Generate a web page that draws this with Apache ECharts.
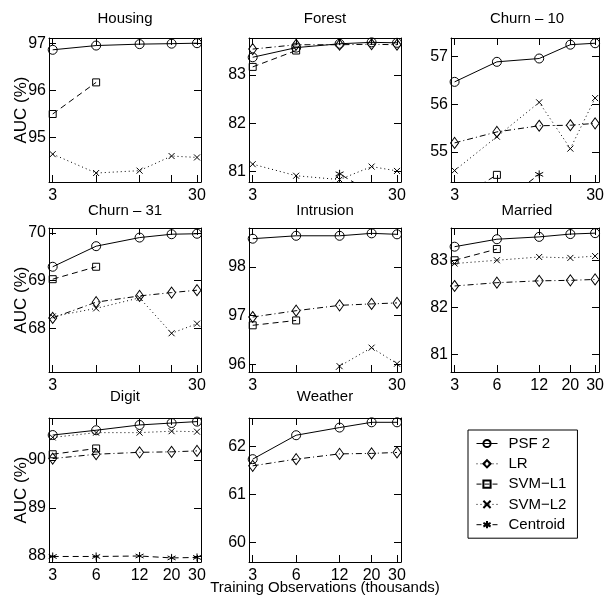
<!DOCTYPE html>
<html><head><meta charset="utf-8">
<script src="https://cdn.jsdelivr.net/npm/echarts@6/dist/echarts.min.js"></script>
<style>html,body{margin:0;padding:0;background:#fff}#c{width:607px;height:606px}</style>
</head><body><div id="c"></div><script>
// ---- data ----
const xValues = [3, 6, 12, 20, 30];
const panelTitles = ['Housing', 'Forest', 'Churn – 10', 'Churn – 31', 'Intrusion', 'Married', 'Digit', 'Weather'];
const yTicks = [[95, 96, 97], [81, 82, 83], [55, 56, 57], [68, 69, 70], [96, 97, 98], [81, 82, 83], [88, 89, 90], [60, 61, 62]];
const yMins = [94.06, 80.78, 54.37, 67.09, 95.84, 80.62, 87.875, 59.59];
const yMaxs = [97.11, 83.77, 57.39, 70.10, 98.80, 83.70, 90.875, 62.60];
const methodNames = ['PSF 2', 'LR', 'SVM−L1', 'SVM−L2', 'Centroid'];
const psf2 = [
  [96.86, 96.95, 96.98, 96.99, 97.00],
  [83.37, 83.57, 83.65, 83.68, 83.67],
  [56.47, 56.89, 56.96, 57.25, 57.28],
  [69.29, 69.72, 69.90, 69.97, 69.98],
  [98.58, 98.64, 98.64, 98.69, 98.67],
  [83.30, 83.46, 83.51, 83.57, 83.59],
  [90.52, 90.62, 90.73, 90.77, 90.80],
  [61.74, 62.24, 62.40, 62.51, 62.51]
];
const lr = [
  null,
  [83.54, 83.63, 83.63, 83.64, 83.63],
  [55.19, 55.42, 55.55, 55.56, 55.60],
  [68.22, 68.55, 68.68, 68.75, 68.80],
  [96.97, 97.10, 97.21, 97.24, 97.26],
  [82.46, 82.53, 82.57, 82.58, 82.60],
  [90.03, 90.12, 90.16, 90.17, 90.19],
  [61.60, 61.74, 61.85, 61.86, 61.88]
];
const svmL1 = [
  [95.50, 96.17, null, null, null],
  [83.17, 83.51, null, null, null],
  [53.98, 54.52, null, null, null],
  [69.03, 69.29, null, null, null],
  [96.80, 96.90, null, null, null],
  [83.01, 83.25, null, null, null],
  [90.12, 90.24, null, null, null],
  null
];
const svmL2 = [
  [94.65, 94.25, 94.30, 94.61, 94.58],
  [81.15, 80.91, 80.83, 81.10, 81.01],
  [54.61, 55.32, 56.04, 55.07, 56.13],
  [68.25, 68.42, 68.64, 67.90, 68.10],
  [null, 95.07, 95.96, 96.34, 96.01],
  [82.94, 83.01, 83.08, 83.06, 83.10],
  [90.47, 90.57, 90.57, 90.60, 90.59],
  null
];
const centroid = [
  null,
  [null, 79.90, 80.95, 80.55, null],
  [null, 53.86, 54.53, null, null],
  null,
  null,
  null,
  [87.99, 87.99, 88.00, 87.96, 87.97],
  null
];

// ---- layout / style ----
const FONT = "'Liberation Sans', Arial, Helvetica, sans-serif";
const colLeft = [49, 249, 451];
const rowTop = [38, 228, 418];
const W = 152, H = 144;
const XMIN = 0.4515, XMAX = 1.5048;
const lg = v => Math.log10(v);
const xTickPos = xValues.map(lg);
const fullLabelPanels = [5, 6, 7];

const methodData = [psf2, lr, svmL1, svmL2, centroid];
const styles = [
  {symbol: 'circle', symbolSize: 9, type: 'solid', legendType: 'solid'},
  {symbol: 'diamond', symbolSize: [8, 11], type: [6, 3, 1, 3], legendType: [1, 3]},
  {symbol: 'rect', symbolSize: 7, type: [6, 4], legendType: [5, 3]},
  {symbol: 'path://M0,0L10,10M10,0L0,10', symbolSize: 6, type: [1, 3], legendType: [1, 3]},
  {symbol: 'path://M5,0L5,10M0.7,2.5L9.3,7.5M0.7,7.5L9.3,2.5', symbolSize: 8, type: [6, 4], legendType: [5, 3]}
];

const grids = [], xAxes = [], yAxes = [], series = [], graphics = [];
const black = '#000';
for (let i = 0; i < 8; i++) {
  const r = Math.floor(i / 3), c = i % 3;
  grids.push({left: colLeft[c], top: rowTop[r], width: W, height: H, containLabel: false});
  const labelPos = fullLabelPanels.includes(i) ? xTickPos : [lg(3), lg(30)];
  const axisLine = {show: true, onZero: false, lineStyle: {color: black, width: 1}};
  const labelStyle = {color: black, fontSize: 16, fontFamily: FONT};
  xAxes.push({
    type: 'value', gridIndex: i, position: 'bottom', min: XMIN, max: XMAX,
    axisLine, splitLine: {show: false},
    axisTick: {show: true, inside: true, length: 7, customValues: xTickPos, lineStyle: {color: black}},
    axisLabel: Object.assign({show: true, customValues: labelPos, margin: 6,
      formatter: v => String(Math.round(Math.pow(10, v)))}, labelStyle)
  });
  xAxes.push({
    type: 'value', gridIndex: i, position: 'top', min: XMIN, max: XMAX,
    axisLine, splitLine: {show: false},
    axisTick: {show: true, inside: true, length: 7, customValues: xTickPos, lineStyle: {color: black}},
    axisLabel: {show: false}
  });
  yAxes.push({
    type: 'value', gridIndex: i, position: 'left', min: yMins[i], max: yMaxs[i],
    axisLine, splitLine: {show: false},
    axisTick: {show: true, inside: true, length: 7, customValues: yTicks[i], lineStyle: {color: black}},
    axisLabel: Object.assign({show: true, customValues: yTicks[i], margin: 3}, labelStyle)
  });
  yAxes.push({
    type: 'value', gridIndex: i, position: 'right', min: yMins[i], max: yMaxs[i],
    axisLine, splitLine: {show: false},
    axisTick: {show: true, inside: true, length: 7, customValues: yTicks[i], lineStyle: {color: black}},
    axisLabel: {show: false}
  });
  methodData.forEach((arr, m) => {
    const vals = arr[i];
    if (!vals) return;
    const pts = [];
    xValues.forEach((x, k) => { if (vals[k] != null) pts.push([lg(x), vals[k]]); });
    const st = styles[m];
    series.push({
      type: 'line', name: methodNames[m], xAxisIndex: 2 * i, yAxisIndex: 2 * i,
      data: pts, symbol: st.symbol, symbolSize: st.symbolSize, showSymbol: true,
      clip: true, animation: false, z: 3,
      lineStyle: {color: black, width: 1, type: st.type},
      itemStyle: {color: 'rgba(0,0,0,0)', borderColor: black, borderWidth: 1}
    });
  });
  graphics.push({
    type: 'text', x: colLeft[c] + W / 2, y: [19, 211, 397][r],
    style: {text: panelTitles[i], fontSize: 15, fontFamily: FONT, fill: black, textAlign: 'center', textVerticalAlign: 'middle'}
  });
  if (c === 0) {
    graphics.push({
      type: 'text', x: 21, y: rowTop[r] + H / 2, rotation: Math.PI / 2,
      style: {text: 'AUC (%)', fontSize: 17, fontFamily: FONT, fill: black, textAlign: 'center', textVerticalAlign: 'middle'}
    });
  }
}
graphics.push({
  type: 'text', x: 325, y: 588,
  style: {text: 'Training Observations (thousands)', fontSize: 15, fontFamily: FONT, fill: black, textAlign: 'center', textVerticalAlign: 'middle'}
});

const chart = echarts.init(document.getElementById('c'), null, {renderer: 'canvas'});
chart.setOption({
  animation: false,
  backgroundColor: '#fff',
  grid: grids, xAxis: xAxes, yAxis: yAxes, series,
  legend: {
    orient: 'vertical', left: 468, top: 430,
    data: methodNames.map((n, m) => ({name: n, lineStyle: {type: styles[m].legendType, width: 1, color: black}})),
    borderColor: black, borderWidth: 1, padding: [6, 11, 6, 8],
    itemWidth: 21, itemHeight: 9, itemGap: 5.3,
    textStyle: {fontSize: 15, lineHeight: 14, fontFamily: FONT, color: black, padding: [0, 0, 0, 6]},
    selectedMode: false
  },
  graphic: graphics
});
</script></body></html>
